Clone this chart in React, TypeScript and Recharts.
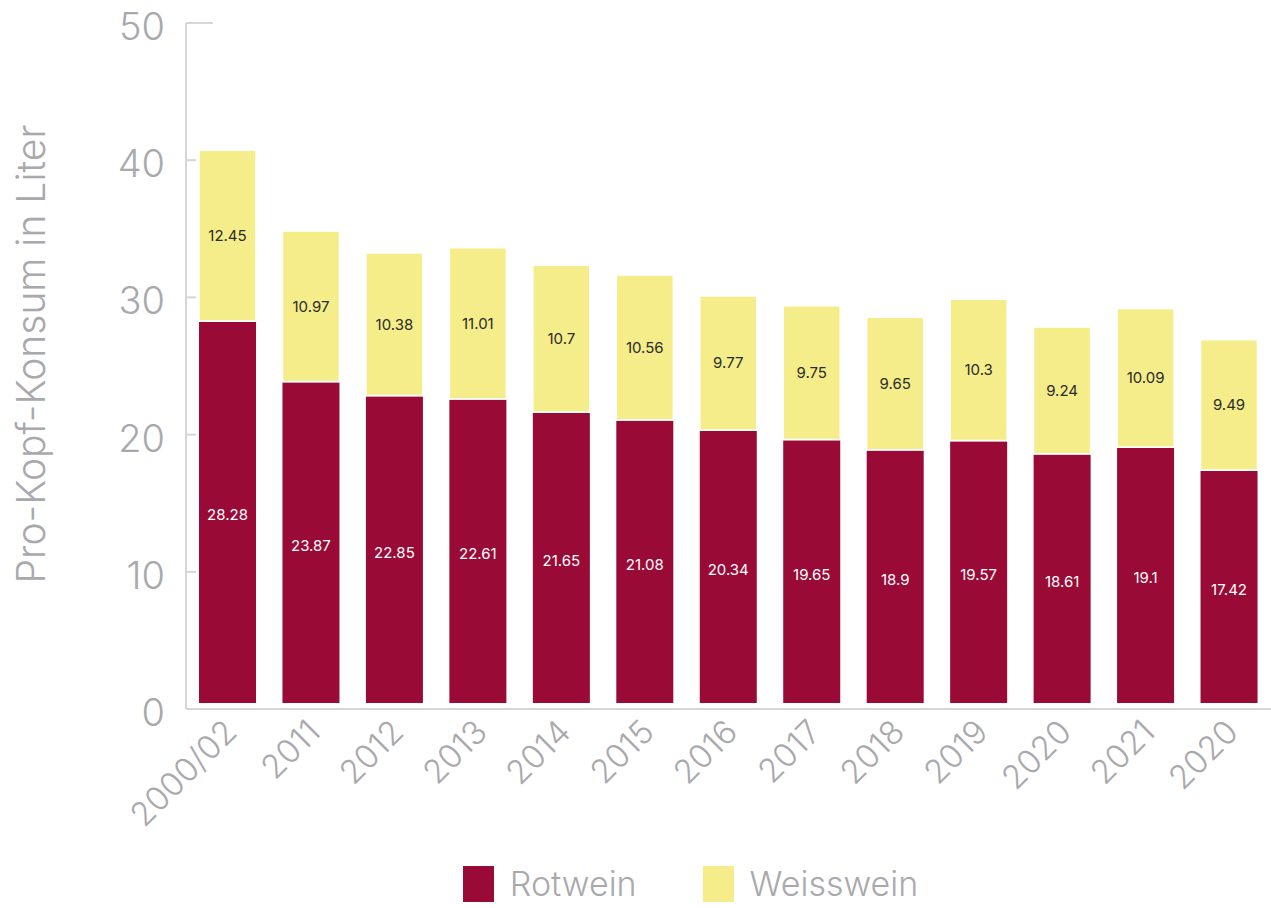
import React from 'react';
import { Bar, BarChart, LabelList, Legend, XAxis, YAxis } from 'recharts';

const years = ['2000/02', '2011', '2012', '2013', '2014', '2015', '2016', '2017', '2018', '2019', '2020', '2021', '2020'];
const rotwein = [28.28, 23.87, 22.85, 22.61, 21.65, 21.08, 20.34, 19.65, 18.9, 19.57, 18.61, 19.1, 17.42];
const weisswein = [12.45, 10.97, 10.38, 11.01, 10.7, 10.56, 9.77, 9.75, 9.65, 10.3, 9.24, 10.09, 9.49];
const yTicks = [0, 10, 20, 30, 40, 50];

const RED = '#990a36';
const YELLOW = '#f5ed89';
const GREY = '#a9a9ad';
const FONT = 'Inter, Lato, sans-serif';

const data = years.map((year, i) => ({ year, rot: rotwein[i], weiss: weisswein[i] }));

const YTick = (props: any) => {
  const { x, y, payload } = props;
  const axisX = x + 21;
  const len = payload.value === 50 ? 27 : 10;
  return (
    <g>
      <line x1={axisX} x2={axisX + len} y1={y} y2={y} stroke="#d6d6d6" strokeWidth={2} />
      <text x={x} y={y} dy={17} textAnchor="end" fill={GREY} fontSize={38} fontWeight={300} fontFamily={FONT}>
        {payload.value}
      </text>
    </g>
  );
};

const XTick = (props: any) => {
  const { x, y, payload } = props;
  const tx = x + 11;
  const ty = y + 17;
  return (
    <text
      x={tx}
      y={ty}
      transform={`rotate(-45, ${tx}, ${ty})`}
      textAnchor="end"
      fill={GREY}
      fontSize={33}
      fontWeight={300}
      fontFamily={FONT}
    >
      {payload.value}
    </text>
  );
};

const YLabel = (props: any) => {
  const { viewBox } = props;
  const cy = viewBox.y + viewBox.height / 2 - 12;
  return (
    <text
      x={30}
      y={cy}
      transform={`rotate(-90, 30, ${cy})`}
      textAnchor="middle"
      dominantBaseline="central"
      fill={GREY}
      fontSize={39}
      fontWeight={300}
      fontFamily={FONT}
    >
      Pro-Kopf-Konsum in Liter
    </text>
  );
};

// rot bars stop a few pixels above the axis line, like in the original
const RotShape = (props: any) => {
  const { x, y, width, height, fill } = props;
  return <rect x={x} y={y + 1} width={width} height={Math.max(0, height - 7)} fill={fill} />;
};

const LegendContent = () => (
  <div
    style={{
      display: 'flex',
      justifyContent: 'center',
      alignItems: 'center',
      paddingTop: 8,
      fontFamily: FONT,
      transform: 'translateX(55px)',
    }}
  >
    {[
      { name: 'Rotwein', color: RED },
      { name: 'Weisswein', color: YELLOW },
    ].map((item, i) => (
      <div key={item.name} style={{ display: 'flex', alignItems: 'center', marginLeft: i ? 66 : 0 }}>
        <span style={{ width: 31, height: 36, background: item.color, display: 'inline-block', marginRight: 16 }} />
        <span style={{ fontSize: 34, fontWeight: 300, color: GREY, lineHeight: '36px' }}>{item.name}</span>
      </div>
    ))}
  </div>
);

const App = () => {
  return (
    <div style={{ position: 'absolute', left: 0, top: 0 }}>
      <BarChart width={1271} height={908} data={data} margin={{ top: 23, right: 0, left: 0, bottom: 0 }} barSize={57}>
        <XAxis
          dataKey="year"
          axisLine={{ stroke: '#d6d6d6', strokeWidth: 2 }}
          tickLine={false}
          tick={<XTick />}
          interval={0}
          height={149}
        />
        <YAxis
          domain={[0, 50]}
          ticks={yTicks}
          width={186}
          axisLine={{ stroke: '#d6d6d6', strokeWidth: 2 }}
          tickLine={false}
          tick={<YTick />}
          tickMargin={21}
          tickSize={0}
          label={<YLabel />}
        />
        <Legend verticalAlign="bottom" height={50} content={<LegendContent />} />
        <Bar dataKey="rot" stackId="a" fill={RED} shape={<RotShape />} isAnimationActive={false}>
          <LabelList dataKey="rot" position="center" fill="#fff" fontSize={15} fontFamily={FONT} />
        </Bar>
        <Bar dataKey="weiss" stackId="a" fill={YELLOW} stroke="#fff" strokeWidth={1.5} isAnimationActive={false}>
          <LabelList dataKey="weiss" position="center" fill="#2a2a2a" fontSize={15} fontFamily={FONT} />
        </Bar>
      </BarChart>
    </div>
  );
};

export default App;
